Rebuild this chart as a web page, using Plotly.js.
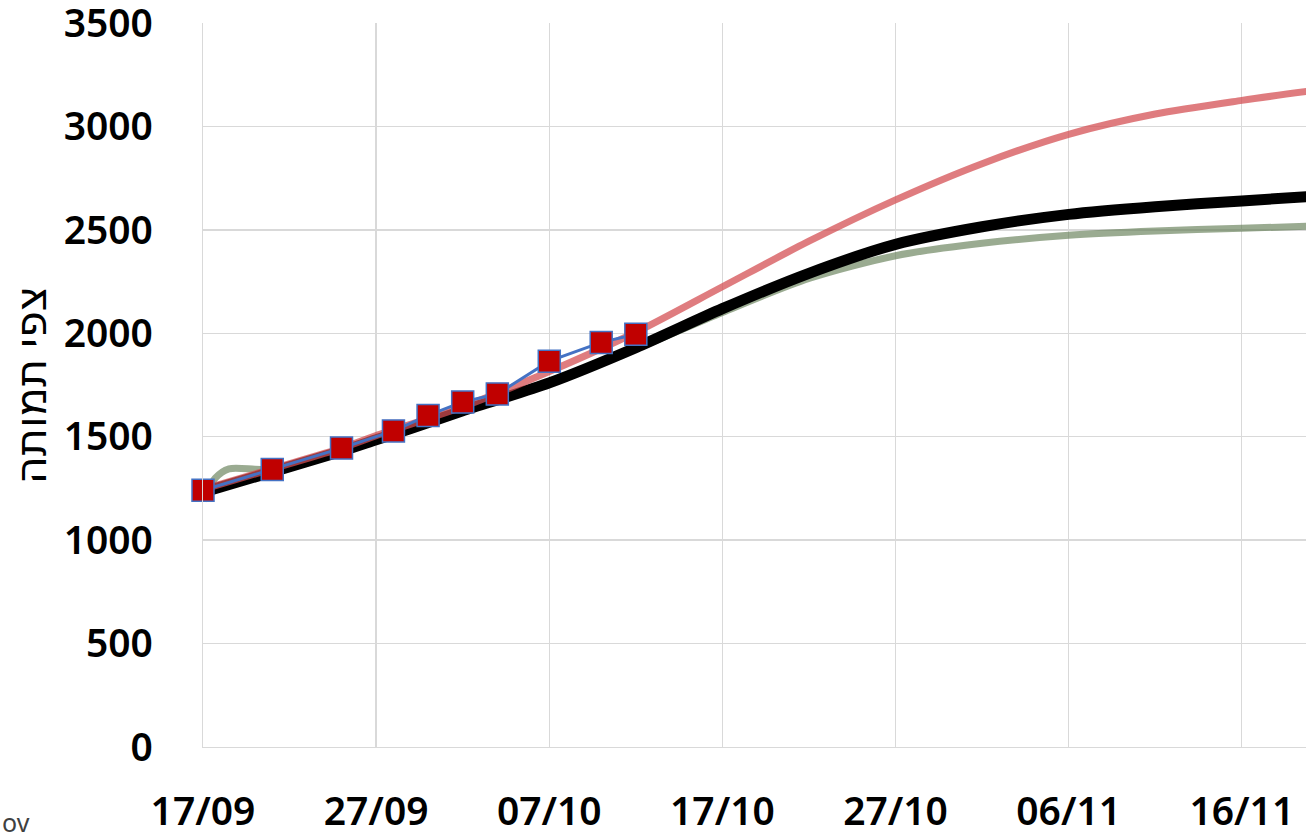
<!DOCTYPE html>
<html>
<head>
<meta charset="utf-8">
<script src="https://cdn.plot.ly/plotly-3.0.1.min.js"></script>
<style>
html,body{margin:0;padding:0;background:#fff;overflow:hidden;}
#chart{width:1306px;height:839px;}
</style>
</head>
<body>
<div id="chart"></div>
<script>
// Reported deaths (markers)
const obsDates = ['2020-09-17','2020-09-21','2020-09-25','2020-09-28','2020-09-30','2020-10-02','2020-10-04','2020-10-07','2020-10-10','2020-10-12'];
const obsValues = [1241, 1342, 1445, 1528, 1603, 1668, 1707, 1865, 1956, 1995];

// Forecast curves
const redDates = ['2020-09-17','2020-09-21','2020-09-25','2020-09-27','2020-10-02','2020-10-07','2020-10-12','2020-10-17','2020-10-22','2020-10-27','2020-11-01','2020-11-06','2020-11-11','2020-11-16','2020-11-19 18:00'];
const redValues = [1245, 1345, 1445, 1505, 1645, 1815, 2005, 2225, 2445, 2645, 2820, 2962, 3060, 3126, 3169];

const blackDates = ['2020-09-17','2020-09-21','2020-09-25','2020-09-27','2020-09-29','2020-10-02','2020-10-07','2020-10-12','2020-10-17','2020-10-22','2020-10-27','2020-11-01','2020-11-06','2020-11-11','2020-11-16','2020-11-19 18:00'];
const blackValues = [1232, 1330, 1430, 1485, 1540, 1625, 1760, 1930, 2119, 2290, 2430, 2515, 2575, 2612, 2640, 2660];

const greenDates = ['2020-09-17','2020-09-17 17:00','2020-09-18 12:00','2020-09-20','2020-09-21','2020-09-25','2020-09-29','2020-10-03','2020-10-07','2020-10-12','2020-10-17','2020-10-22','2020-10-27','2020-11-01','2020-11-06','2020-11-11','2020-11-16','2020-11-19 18:00'];
const greenValues = [1190, 1300, 1345, 1343, 1340, 1435, 1540, 1650, 1760, 1925, 2101, 2265, 2375, 2435, 2474, 2495, 2508, 2517];

const yTickVals = [0, 500, 1000, 1500, 2000, 2500, 3000, 3500];
const yTitle = 'צפי תמותה';
const sourceText = 'ov';

const tickFont = {family: '"Noto Sans", "Open Sans", sans-serif', size: 39, color: '#000000', weight: 600};

const traces = [
  {x: greenDates, y: greenValues, type: 'scatter', mode: 'lines', line: {color: 'rgba(92,120,78,0.62)', width: 7, shape: 'spline', smoothing: 0.8}, hoverinfo: 'skip', cliponaxis: false},
  {x: blackDates, y: blackValues, type: 'scatter', mode: 'lines', line: {color: '#000000', width: 11, shape: 'spline', smoothing: 0.8}, hoverinfo: 'skip', cliponaxis: false},
  {x: redDates, y: redValues, type: 'scatter', mode: 'lines', line: {color: 'rgba(212,78,82,0.74)', width: 7, shape: 'spline', smoothing: 0.8}, hoverinfo: 'skip', cliponaxis: false},
  {x: obsDates, y: obsValues, type: 'scatter', mode: 'lines+markers', line: {color: '#4472C4', width: 3}, marker: {symbol: 'square', size: 22, color: '#C00000', line: {color: '#4472C4', width: 1.5}}, cliponaxis: false}
];

const layout = {
  width: 1306, height: 839,
  margin: {l: 203, r: 0, t: 23, b: 92},
  paper_bgcolor: '#ffffff', plot_bgcolor: '#ffffff',
  showlegend: false,
  xaxis: {
    type: 'date',
    range: ['2020-09-17', '2020-11-19 17:00'],
    tick0: '2020-09-17', dtick: 864000000,
    tickformat: '%d/%m',
    showgrid: true, gridcolor: '#d9d9d9', gridwidth: 1.3,
    showline: true, linecolor: '#d9d9d9', linewidth: 1.3,
    zeroline: false, ticks: '',
    tickfont: tickFont,
    ticklabelstandoff: 30,
    ticklabeloverflow: 'allow'
  },
  yaxis: {
    range: [0, 3500],
    tickvals: yTickVals,
    showgrid: true, gridcolor: '#d9d9d9', gridwidth: 1.3,
    showline: true, linecolor: '#d9d9d9', linewidth: 1.3,
    zeroline: false, ticks: '',
    tickfont: tickFont,
    ticklabelstandoff: 41,
    ticklabeloverflow: 'allow',
    title: {text: yTitle, font: {family: '"Noto Sans", "DejaVu Sans", sans-serif', size: 43, color: '#000000'}, standoff: 12}
  },
  annotations: [
    {xref: 'paper', yref: 'paper', x: -0.1841, y: -0.104, xanchor: 'left', yanchor: 'middle', text: sourceText, showarrow: false, font: {family: '"Noto Sans", sans-serif', size: 25, color: '#404040'}}
  ]
};

Plotly.newPlot('chart', traces, layout, {displayModeBar: false, staticPlot: true});
</script>
</body>
</html>
